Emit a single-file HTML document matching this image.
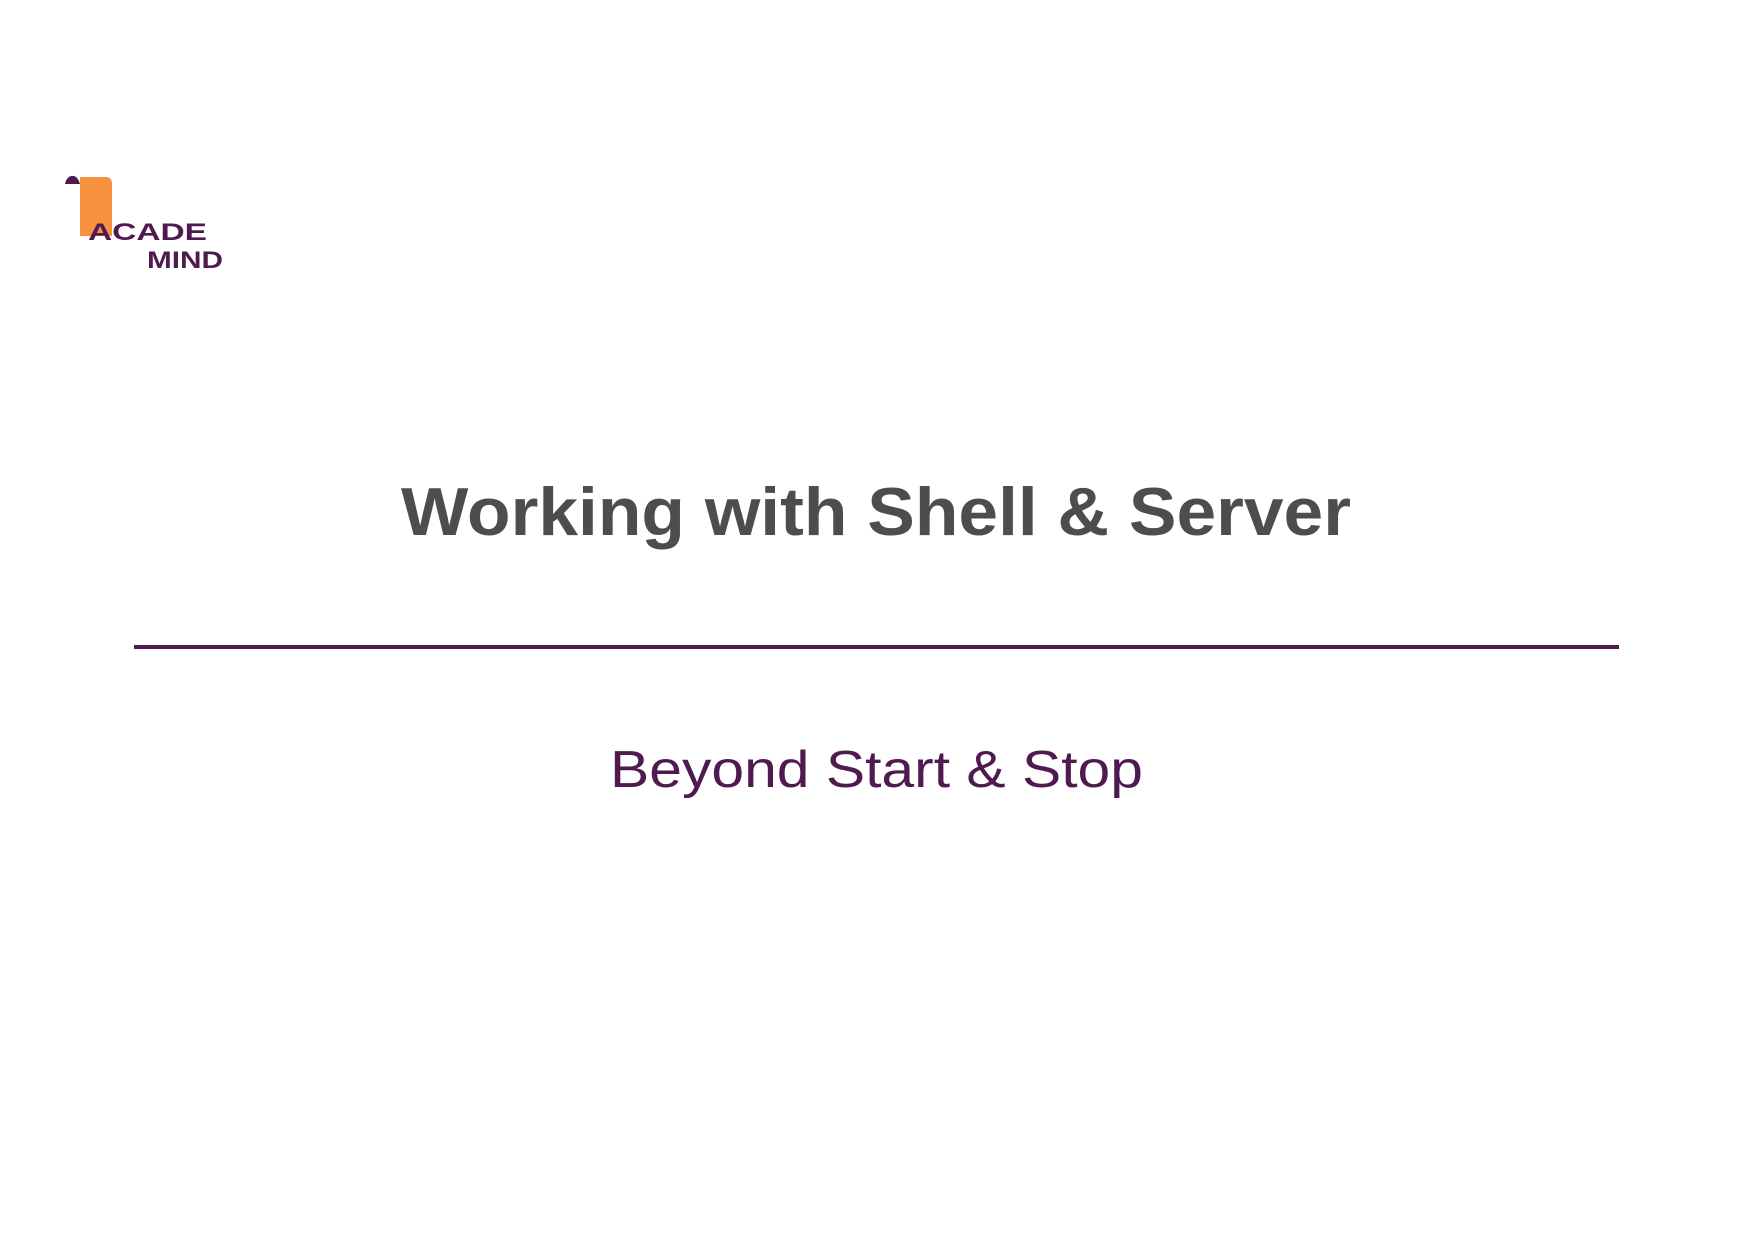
<!DOCTYPE html>
<html><head><meta charset="utf-8"><style>html,body{margin:0;padding:0;background:#fff}svg{display:block}</style></head>
<body>
<svg width="1754" height="1240" viewBox="0 0 1754 1240" xmlns="http://www.w3.org/2000/svg">
<rect width="1754" height="1240" fill="#fff"/>
<path d="M80 177 H106 Q112 177 112 184 V236 H80 Z" fill="#f7923f"/>
<path d="M65 184 Q67 175 74 176 Q78 177 80 184 Z" fill="#4f1a4f"/>
<text x="88" y="240" font-family="Liberation Sans, sans-serif" font-weight="bold" font-size="24" fill="#4f1a4f" textLength="119" lengthAdjust="spacingAndGlyphs">ACADE</text>
<text x="147" y="268" font-family="Liberation Sans, sans-serif" font-weight="bold" font-size="24" fill="#4f1a4f" textLength="76" lengthAdjust="spacingAndGlyphs">MIND</text>
<text x="401" y="535" font-family="Liberation Sans, sans-serif" font-weight="bold" font-size="68" fill="#4d4d4d" textLength="950" lengthAdjust="spacingAndGlyphs">Working with Shell &amp; Server</text>
<rect x="134" y="645" width="1485" height="4" fill="#4f1a4f"/>
<text x="610" y="787" font-family="Liberation Sans, sans-serif" font-size="52" fill="#4f1a4f" textLength="533" lengthAdjust="spacingAndGlyphs">Beyond Start &amp; Stop</text>
</svg>
</body></html>
